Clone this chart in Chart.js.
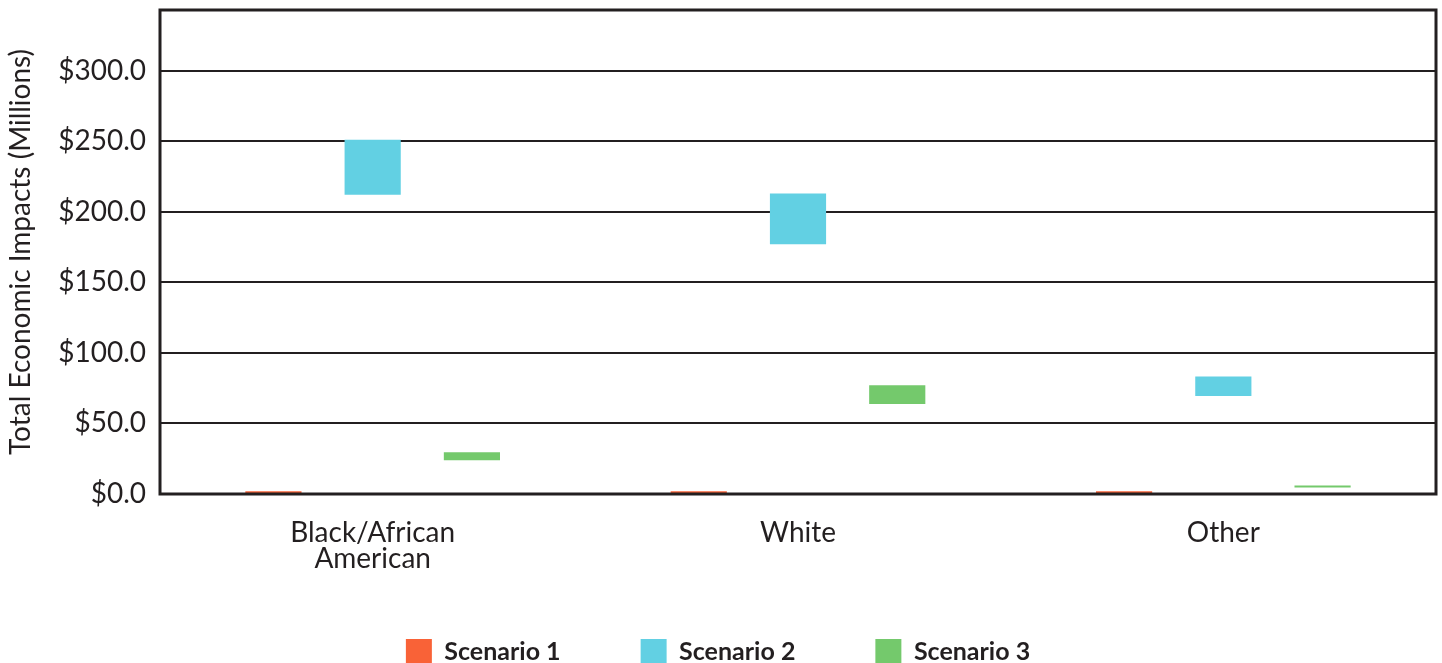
<!DOCTYPE html>
<html>
<head>
<meta charset="utf-8">
<script src="https://cdn.jsdelivr.net/npm/chart.js@4"></script>
<style>
    html, body { margin: 0; padding: 0; background: #fff; }
    #wrap { width: 1442px; height: 663px; position: relative; }
</style>
</head>
<body>
<div id="wrap"><canvas id="impact-chart"></canvas></div>
<script>
// Categories and floating bar ranges ($ millions, [low, high])
const categories = [['Black/African', 'American'], 'White', 'Other'];
const scenario1 = [[0, 2], [0, 2], [0, 2]];
const scenario2 = [[212, 251], [177, 213], [69.4, 83.3]];
const scenario3 = [[24, 29.5], [63.7, 77], [4.6, 6]];
const yTicks = [0, 50, 100, 150, 200, 250, 300];

const textColor = '#231f20';
const lineColor = '#231f20';

// draws the box around the plot area
const frame = {
    id: 'frame',
    afterDraw(chart) {
        const { ctx, chartArea } = chart;
        ctx.save();
        ctx.strokeStyle = lineColor;
        ctx.lineWidth = 3;
        ctx.strokeRect(chartArea.left, chartArea.top, chartArea.right - chartArea.left, chartArea.bottom - chartArea.top);
        ctx.restore();
    }
};

// legend padding is big (for wide item gaps), so pull it up a bit
const legendShift = {
    id: 'legendShift',
    afterLayout(chart) {
        if (chart.legend) {
            chart.legend.top -= 16;
            chart.legend.bottom -= 16;
        }
    }
};

document.addEventListener('DOMContentLoaded', () => {
    const ctx = document.getElementById('impact-chart').getContext('2d');

    new Chart(ctx, {
        type: 'bar',
        data: {
            labels: categories,
            datasets: [
                { label: 'Scenario 1', data: scenario1, backgroundColor: '#f96237' },
                { label: 'Scenario 2', data: scenario2, backgroundColor: '#62d0e3' },
                { label: 'Scenario 3', data: scenario3, backgroundColor: '#74c96c' }
            ]
        },
        options: {
            responsive: true,
            maintainAspectRatio: false,
            animation: false,
            categoryPercentage: 0.7,
            barPercentage: 0.566,
            layout: { padding: { top: 10, right: 6, left: 0, bottom: -28 } },
            plugins: {
                tooltip: { enabled: false },
                legend: {
                    position: 'bottom',
                    labels: {
                        color: textColor,
                        font: { family: 'Lato', size: 25, weight: 'bold' },
                        boxWidth: 26,
                        boxHeight: 26,
                        padding: 80
                    }
                }
            },
            scales: {
                x: {
                    grid: { display: false, drawTicks: false },
                    border: { display: false },
                    ticks: {
                        color: textColor,
                        font: { family: 'Lato', size: 28, lineHeight: 0.93 },
                        padding: 26,
                        maxRotation: 0
                    },
                    afterFit(scale) { scale.height = 81; }
                },
                y: {
                    min: 0,
                    max: 343,
                    afterBuildTicks(scale) { scale.ticks = yTicks.map(v => ({ value: v })); },
                    grid: { color: lineColor, lineWidth: 2, drawTicks: false },
                    border: { display: false },
                    ticks: {
                        color: textColor,
                        font: { family: 'Lato', size: 28 },
                        padding: 14,
                        callback: v => '$' + Number(v).toFixed(1)
                    },
                    title: {
                        display: true,
                        text: 'Total Economic Impacts (Millions)',
                        color: textColor,
                        font: { family: 'Lato', size: 28 },
                        padding: { top: 4, bottom: 8 }
                    },
                    afterFit(scale) {
                        scale.width = 160;
                        scale.paddingTop = 0;
                        scale.paddingBottom = 0;
                    }
                }
            }
        },
        plugins: [frame, legendShift]
    });
});
</script>
</body>
</html>
